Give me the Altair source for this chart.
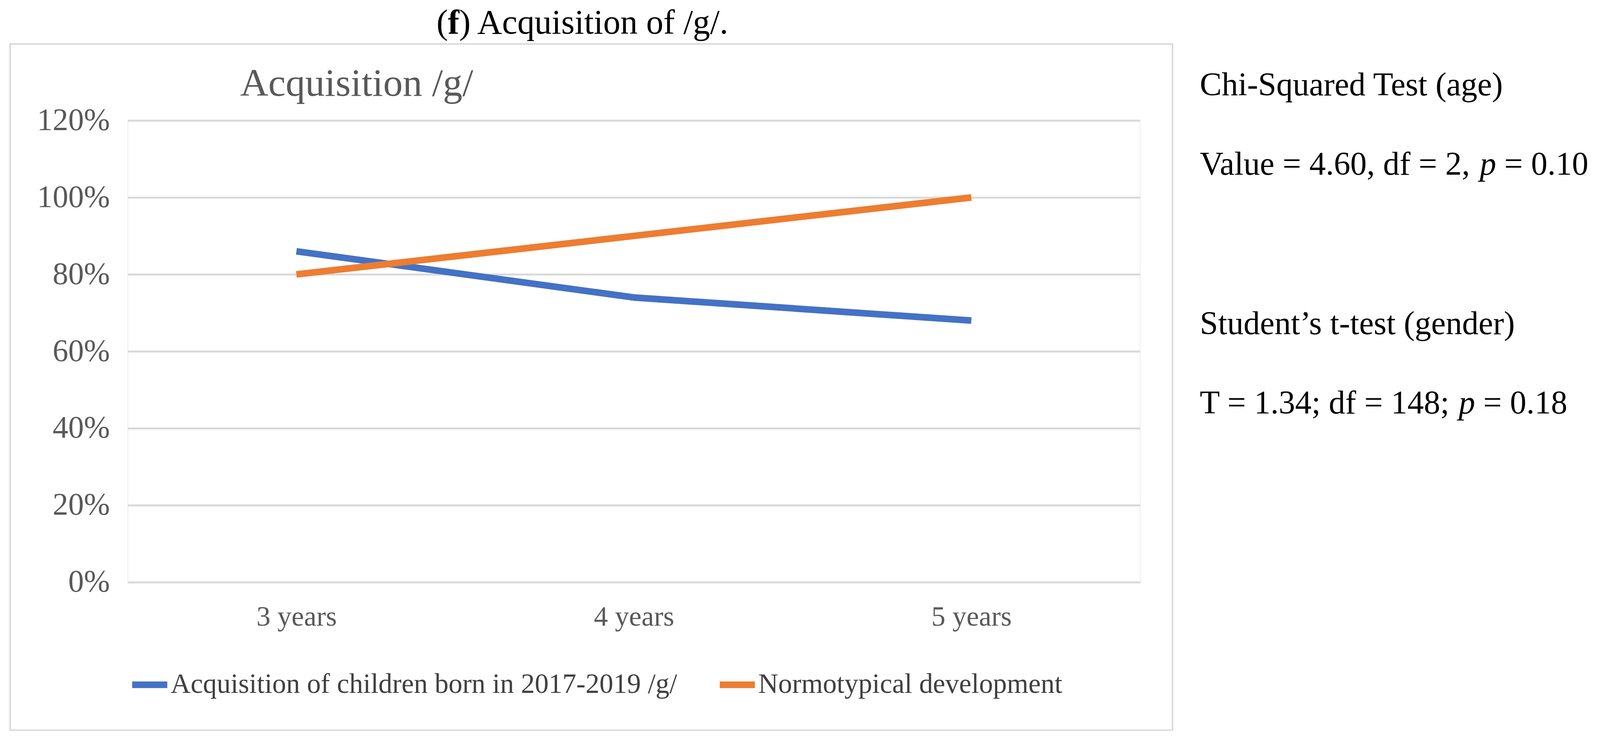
import altair as alt
import pandas as pd

# ---------------- data ----------------
categories = ["3 years", "4 years", "5 years"]
series_children = "Acquisition of children born in 2017-2019 /g/"
series_norm = "Normotypical development"
children_values = [0.86, 0.74, 0.68]
norm_values = [0.80, 0.90, 1.00]
y_ticks = [0.0, 0.2, 0.4, 0.6, 0.8, 1.0, 1.2]
series_colors = ["#4472C4", "#ED7D31"]

chart_title = "Acquisition /g/"
header_parts = ["(", "f", ") Acquisition of /g/."]
stat_heading_1 = "Chi-Squared Test (age)"
stat_line_1 = ["Value = 4.60, df = 2,", "p", "= 0.10"]
stat_heading_2 = "Student\u2019s t-test (gender)"
stat_line_2 = ["T = 1.34; df = 148;", "p", "= 0.18"]

rows = []
for c, v in zip(categories, children_values):
    rows.append({"age": c, "value": v, "series": series_children})
for c, v in zip(categories, norm_values):
    rows.append({"age": c, "value": v, "series": series_norm})
df = pd.DataFrame(rows)

SERIF = "Liberation Serif"
W, H = 2593, 1182

lines = alt.Chart(df).mark_line(strokeWidth=17, strokeCap="butt", strokeJoin="round").encode(
    x=alt.X("age:N", sort=categories, scale=alt.Scale(type="point", padding=0.5),
            axis=alt.Axis(title=None, labelAngle=0, labelFont=SERIF, labelFontSize=72,
                          labelColor="#595959", labelPadding=111, labelBaseline="alphabetic",
                          labelLimit=0, ticks=False, tickSize=0, domain=False, grid=False)),
    y=alt.Y("value:Q", scale=alt.Scale(domain=[0, 1.2], nice=False, zero=True),
            axis=alt.Axis(title=None, values=y_ticks, format=".0%", labelFont=SERIF,
                          labelFontSize=80, labelColor="#595959", labelPadding=46,
                          labelLimit=0, ticks=False, tickSize=0, domain=False, grid=True,
                          gridColor="#d9d9d9", gridWidth=5)),
    color=alt.Color("series:N",
                    scale=alt.Scale(domain=[series_children, series_norm], range=series_colors),
                    legend=alt.Legend(title=None, orient="none", legendX=3, legendY=1391,
                                      direction="horizontal", symbolType="stroke",
                                      symbolStrokeWidth=17, symbolSize=8100,
                                      labelFont=SERIF, labelFontSize=71, labelColor="#404040",
                                      labelOffset=0, columnPadding=74, labelLimit=3000)),
)

def txt(s, x, y, size, color="black", align="left", weight="normal", style="normal"):
    return alt.Chart(pd.DataFrame({"t": [s]})).mark_text(
        font=SERIF, fontSize=size, color=color, align=align, baseline="alphabetic",
        fontWeight=weight, fontStyle=style,
    ).encode(text="t:N", x=alt.value(x), y=alt.value(y))

border = alt.Chart(pd.DataFrame({"a": [0]})).mark_rect(
    fill="transparent", stroke="#d9d9d9", strokeWidth=4
).encode(x=alt.value(-301), x2=alt.value(2676), y=alt.value(-196), y2=alt.value(1561))

OX, OY = 327, 308
hs = 88
SX = 3073 - OX
fs = 84
layers = [
    border,
    lines,
    txt(chart_title, 615 - OX, 245 - OY, 100, color="#595959"),
    txt(header_parts[0], 1118 - OX, 86 - OY, hs),
    txt(header_parts[1], 1118 - OX + 29, 86 - OY, hs, weight="bold"),
    txt(header_parts[2], 1118 - OX + 58, 86 - OY, hs),
    txt(stat_heading_1, SX, 244 - OY, fs),
    txt(stat_line_1[0], SX, 447 - OY, fs),
    txt(stat_line_1[1], SX + 717, 447 - OY, fs, style="italic"),
    txt(stat_line_1[2], SX + 717 + 42 + 21, 447 - OY, fs),
    txt(stat_heading_2, SX, 855 - OY, fs),
    txt(stat_line_2[0], SX, 1058 - OY, fs),
    txt(stat_line_2[1], SX + 663, 1058 - OY, fs, style="italic"),
    txt(stat_line_2[2], SX + 663 + 42 + 21, 1058 - OY, fs),
]

chart = alt.layer(*layers).properties(
    width=W, height=H,
    autosize=alt.AutoSizeParams(type="none"),
    padding={"left": 319, "top": 300, "right": 1170, "bottom": 380},
).configure_view(stroke=None).configure(background="white")

chart.save("out.html", embed_options={"renderer": "svg", "actions": False})
